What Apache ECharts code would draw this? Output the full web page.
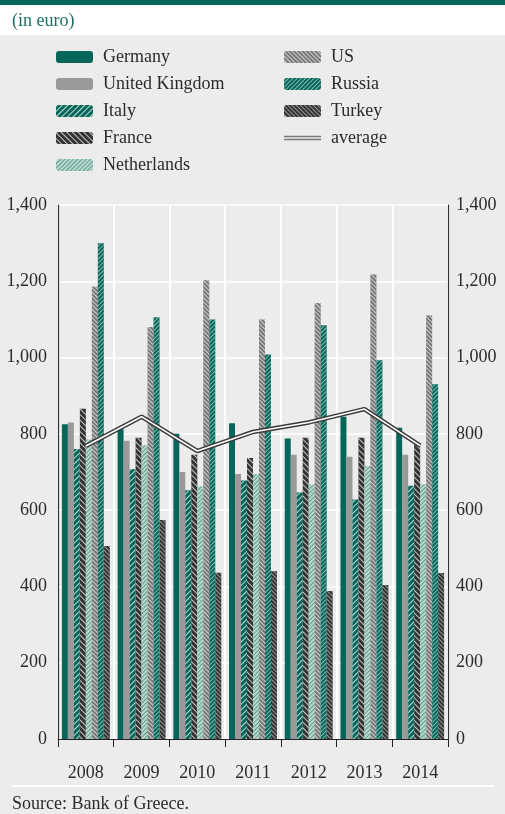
<!DOCTYPE html>
<html>
<head>
<meta charset="utf-8">
<script src="https://cdn.jsdelivr.net/npm/echarts@6/dist/echarts.min.js"></script>
<style>
  html, body { margin: 0; padding: 0; background: #ececec; }
  #chart { width: 505px; height: 814px; }
</style>
</head>
<body>
<div id="chart"></div>
<script>
// Average spending per visitor (euro), by country of origin
const years = ['2008', '2009', '2010', '2011', '2012', '2013', '2014'];
const germany     = [825, 812, 800, 828, 788, 845, 816];
const unitedKingdom = [830, 782, 700, 695, 745, 740, 745];
const italy       = [760, 707, 652, 678, 646, 628, 664];
const france      = [866, 790, 745, 737, 790, 790, 775];
const netherlands = [785, 770, 662, 695, 667, 716, 668];
const us          = [1186, 1080, 1203, 1100, 1143, 1218, 1110];
const russia      = [1300, 1106, 1100, 1008, 1085, 993, 930];
const turkey      = [506, 574, 436, 440, 388, 404, 435];
const average     = [768, 845, 755, 805, 830, 865, 769];

const FONT = 'Liberation Serif';
const TEAL = '#07665a';
const TEXT = '#2b2b2b';

function stripes(color, rot, gap) {
  return {
    symbol: 'rect', symbolSize: 1,
    dashArrayX: [1, 0], dashArrayY: [1, gap],
    rotation: rot, color: color
  };
}

const barDefs = [
  { name: 'Germany', data: germany, color: TEAL },
  { name: 'United Kingdom', data: unitedKingdom, color: '#9a9a9a' },
  { name: 'Italy', data: italy, color: TEAL, decal: stripes('rgba(220,240,235,0.85)', -Math.PI / 4, 3) },
  { name: 'France', data: france, color: '#333333', decal: stripes('rgba(215,215,215,0.9)', Math.PI / 4, 3) },
  { name: 'Netherlands', data: netherlands, color: '#b9d7cf', decal: stripes('rgba(70,145,130,0.8)', -Math.PI / 4, 2) },
  { name: 'US', data: us, color: '#777777', decal: stripes('rgba(225,225,225,0.85)', Math.PI / 4, 2) },
  { name: 'Russia', data: russia, color: TEAL, decal: stripes('rgba(150,200,188,0.85)', -Math.PI / 4, 2) },
  { name: 'Turkey', data: turkey, color: '#333333', decal: stripes('rgba(160,160,160,0.9)', Math.PI / 4, 2) }
];

const series = barDefs.map(d => ({
  name: d.name,
  type: 'bar',
  data: d.data,
  barGap: '0%',
  barCategoryGap: '14%',
  itemStyle: Object.assign({ color: d.color }, d.decal ? { decal: d.decal } : {}),
  emphasis: { disabled: true }
}));

// double line: dark casing with a white core
series.push({
  name: 'average', type: 'line', data: average, symbol: 'none', z: 5,
  itemStyle: { color: '#555' },
  lineStyle: { color: '#3a3a3a', width: 4.5 }
});
series.push({
  name: 'averageCore', type: 'line', data: average, symbol: 'none', z: 6,
  lineStyle: { color: '#ffffff', width: 1.6 }
});

const legendCommon = {
  orient: 'vertical',
  padding: 0,
  itemWidth: 37, itemHeight: 12, itemGap: 9,
  selectedMode: false,
  textStyle: { fontFamily: FONT, fontSize: 18, color: TEXT, lineHeight: 18, padding: [0, 0, 0, 5] }
};

const chart = echarts.init(document.getElementById('chart'), null, { renderer: 'canvas' });
chart.setOption({
  backgroundColor: '#ececec',
  animation: false,
  textStyle: { fontFamily: FONT },
  legend: [
    Object.assign({ left: 56, top: 48, data: ['Germany', 'United Kingdom', 'Italy', 'France', 'Netherlands'] }, legendCommon),
    Object.assign({ left: 284, top: 48, data: ['US', 'Russia', 'Turkey',
      { name: 'average', icon: 'path://M0,0H40V1.4H0Z M0,3.2H40V4.6H0Z', itemStyle: { color: '#777' } }] }, legendCommon)
  ],
  grid: { left: 58, right: 57, top: 205, bottom: 75 },
  xAxis: {
    type: 'category', data: years,
    axisLine: { show: true, lineStyle: { color: '#222', width: 1 } },
    axisTick: { show: true, length: 8, lineStyle: { color: '#222' } },
    splitLine: { show: true, lineStyle: { color: '#ffffff', width: 2 } },
    axisLabel: { fontFamily: FONT, fontSize: 18, color: TEXT, margin: 25 }
  },
  yAxis: [
    {
      type: 'value', min: 0, max: 1400, interval: 200, position: 'left',
      axisLine: { show: true, lineStyle: { color: '#333', width: 1.2 } },
      axisTick: { show: false },
      splitLine: { show: true, lineStyle: { color: '#ffffff', width: 1.5 } },
      axisLabel: { fontFamily: FONT, fontSize: 18, color: TEXT, margin: 11 }
    },
    {
      type: 'value', min: 0, max: 1400, interval: 200, position: 'right',
      axisLine: { show: true, lineStyle: { color: '#333', width: 1.2 } },
      axisTick: { show: false },
      splitLine: { show: false },
      axisLabel: { fontFamily: FONT, fontSize: 18, color: TEXT, margin: 8 }
    }
  ],
  series: series,
  graphic: [
    { type: 'rect', left: 0, top: 0, shape: { width: 505, height: 35 }, style: { fill: '#ffffff' }, silent: true },
    { type: 'rect', left: 0, top: 0, shape: { width: 505, height: 5 }, style: { fill: TEAL }, silent: true },
    { type: 'text', left: 12, top: 12, style: { text: '(in euro)', fill: '#1d6f62', font: '18px "Liberation Serif"' } },
    { type: 'rect', left: 12, top: 785, shape: { width: 482, height: 2 }, style: { fill: '#ffffff' }, silent: true },
    { type: 'text', left: 12, top: 795, style: { text: 'Source: Bank of Greece.', fill: TEXT, font: '18px "Liberation Serif"' } }
  ]
});
</script>
</body>
</html>
